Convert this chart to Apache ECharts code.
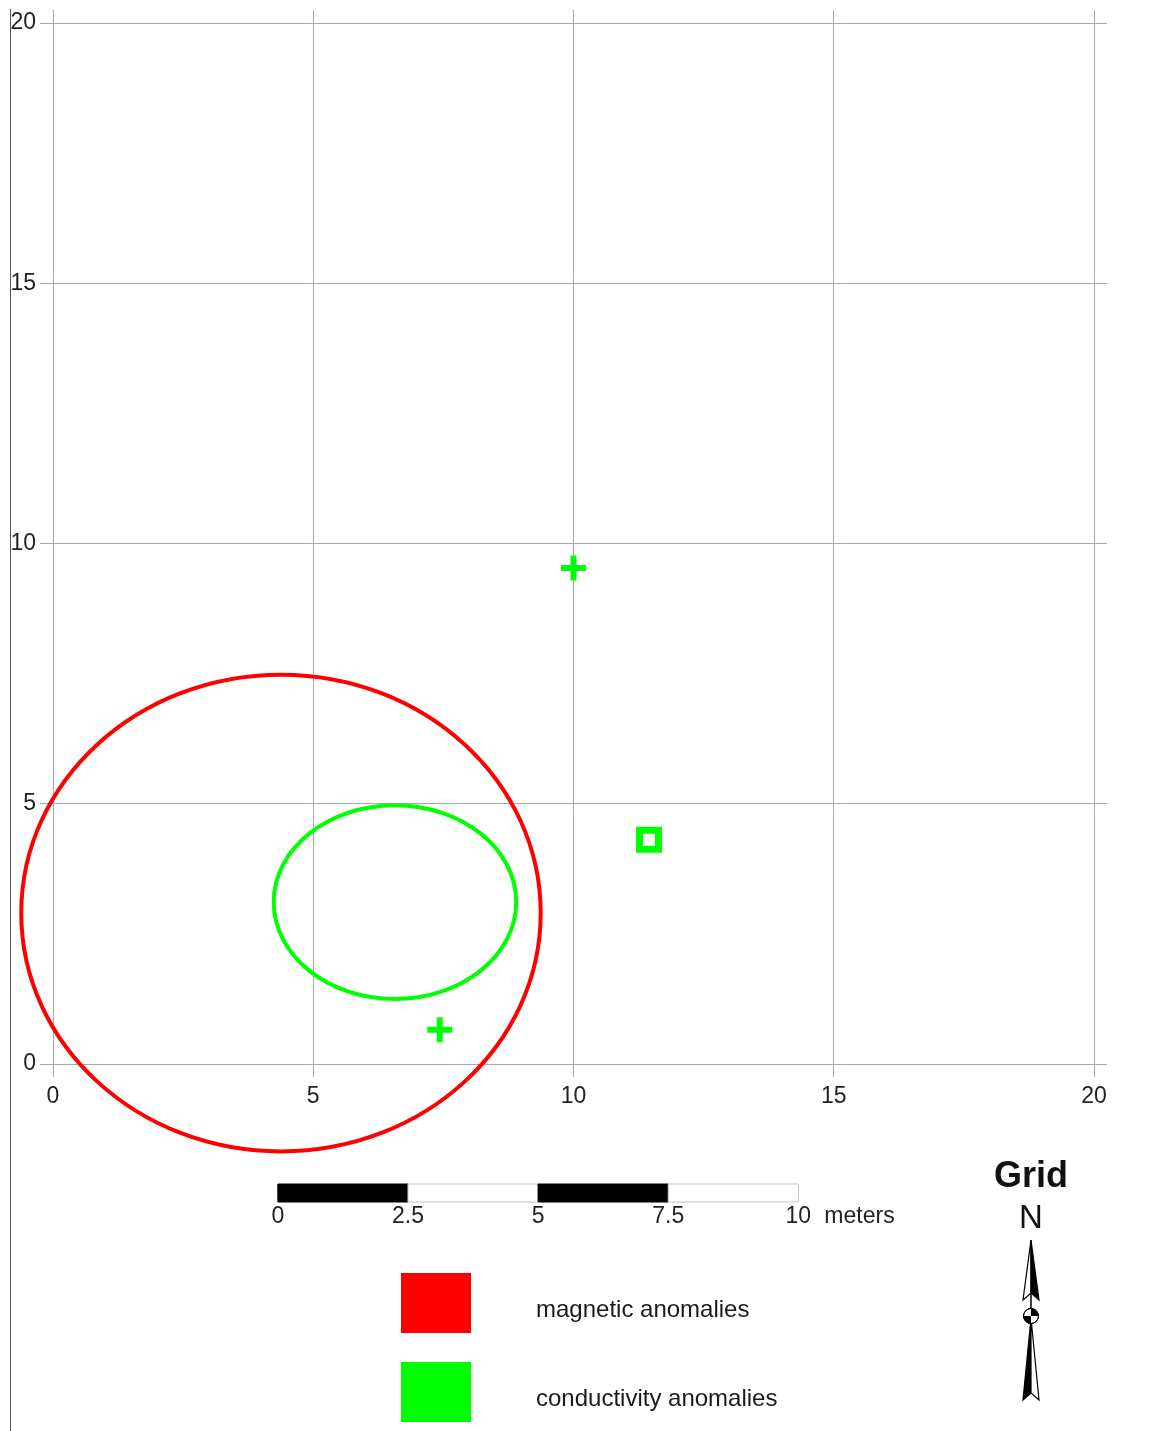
<!DOCTYPE html>
<html>
<head>
<meta charset="utf-8">
<script src="https://cdn.jsdelivr.net/npm/echarts@6/dist/echarts.min.js"></script>
<style>
html,body{margin:0;padding:0;background:#fff;}
#chart{width:1149px;height:1431px;}
</style>
</head>
<body>
<div id="chart"></div>
<script>
// ---------- data (meters) ----------
const axisMin = 0;
const axisMax = 20;
const axisStep = 5;
const gridTicks = [0, 5, 10, 15, 20];
// [centerX, centerY, radiusX, radiusY]
const magneticEllipses = [[4.38, 2.9, 4.99, 4.58]];
const conductivityEllipses = [[6.57, 3.11, 2.33, 1.86]];
const conductivityCrosses = [[10.0, 9.53], [7.43, 0.66]];
const conductivitySquares = [[11.45, 4.31]];
const scaleTicks = [0, 2.5, 5, 7.5, 10];
const scaleUnit = 'meters';
const legendNames = ['magnetic anomalies', 'conductivity anomalies'];
const northTitle = 'Grid';
const northLetter = 'N';

// ---------- layout / style constants ----------
const FONT = '"Liberation Sans", Arial, Helvetica, sans-serif';
const RED = '#ff0000';
const GREEN = '#00ff00';
const GRID_COLOR = '#a8a8a8';
const TEXT_COLOR = '#222222';
const GRID_EXT = 13;         // px the grid lines run past the frame
const SCALE_ORIGIN = 4.32;   // scale bar start, in map meters
const SCALE_DY = 120;        // px below y=0 line
const SCALE_H = 18;

const scaleSegments = scaleTicks.slice(0, -1).map((t, i) => [t, scaleTicks[i + 1]]);

function crisp(v) { return Math.round(v - 0.5) + 0.5; }

function ellipseItem(color) {
  return function (params, api) {
    const c = api.coord([api.value(0), api.value(1)]);
    const s = api.size([api.value(2), api.value(3)]);
    return {
      type: 'ellipse',
      shape: { cx: c[0], cy: c[1], rx: s[0], ry: s[1] },
      style: { fill: 'none', stroke: color, lineWidth: 4 }
    };
  };
}

const chart = echarts.init(document.getElementById('chart'), null, { renderer: 'canvas' });

// North arrow geometry (decoration)
const NX = 1031;
const arrow = [
  { type: 'polygon', shape: { points: [[NX, 1240], [NX - 8, 1300], [NX, 1293]] }, style: { fill: '#fff', stroke: '#000', lineWidth: 1.2 } },
  { type: 'polygon', shape: { points: [[NX, 1240], [NX + 8, 1300], [NX, 1293]] }, style: { fill: '#000', stroke: '#000', lineWidth: 1.2 } },
  { type: 'line', shape: { x1: NX, y1: 1293, x2: NX, y2: 1310 }, style: { stroke: '#000', lineWidth: 1.5 } },
  { type: 'polygon', shape: { points: [[NX, 1318], [NX - 8, 1400], [NX, 1393]] }, style: { fill: '#000', stroke: '#000', lineWidth: 1.2 } },
  { type: 'polygon', shape: { points: [[NX, 1318], [NX + 8, 1400], [NX, 1393]] }, style: { fill: '#fff', stroke: '#000', lineWidth: 1.2 } },
  { type: 'circle', shape: { cx: NX, cy: 1316, r: 7.5 }, style: { fill: '#fff', stroke: '#000', lineWidth: 1 }, z: 10 },
  { type: 'sector', shape: { cx: NX, cy: 1316, r0: 0, r: 7.5, startAngle: -Math.PI / 2, endAngle: 0 }, style: { fill: '#000' }, z: 11 },
  { type: 'sector', shape: { cx: NX, cy: 1316, r0: 0, r: 7.5, startAngle: Math.PI / 2, endAngle: Math.PI }, style: { fill: '#000' }, z: 11 },
  { type: 'circle', shape: { cx: NX, cy: 1316, r: 7.5 }, style: { fill: 'none', stroke: '#000', lineWidth: 1 }, z: 12 }
];

const option = {
  animation: false,
  backgroundColor: '#ffffff',
  textStyle: { fontFamily: FONT },
  grid: { left: 53, top: 23, width: 1041, height: 1041, containLabel: false },
  xAxis: {
    type: 'value', min: axisMin, max: axisMax, interval: axisStep, position: 'bottom',
    axisLine: { show: false },
    axisTick: { show: false },
    axisLabel: { show: true, margin: 21, fontSize: 23, color: TEXT_COLOR, fontFamily: FONT },
    splitLine: { show: false }
  },
  yAxis: {
    type: 'value', min: axisMin, max: axisMax, interval: axisStep, position: 'left',
    axisLine: { show: false },
    axisTick: { show: false },
    axisLabel: { show: true, margin: 17, fontSize: 23, color: TEXT_COLOR, fontFamily: FONT },
    splitLine: { show: false }
  },
  legend: {
    data: legendNames,
    orient: 'vertical',
    left: 401, top: 1273,
    padding: 0,
    itemWidth: 70, itemHeight: 60, itemGap: 29,
    icon: 'rect',
    selectedMode: false,
    itemStyle: { borderWidth: 0 },
    formatter: function (name) { return '{t|' + name + '}'; },
    textStyle: {
      fontSize: 24, color: '#1a1a1a', fontFamily: FONT, padding: [0, 0, 0, 60],
      rich: { t: { fontSize: 24, color: '#1a1a1a', fontFamily: FONT, padding: [14, 0, 0, 0] } }
    }
  },
  series: [
    {
      // vertical grid lines
      type: 'custom', clip: false, silent: true, z: 1,
      data: gridTicks.map(v => [v]),
      renderItem: function (params, api) {
        const v = api.value(0);
        const a = api.coord([v, axisMax]);
        const b = api.coord([v, axisMin]);
        const x = crisp(a[0]);
        return { type: 'line', shape: { x1: x, y1: a[1] - GRID_EXT, x2: x, y2: b[1] + GRID_EXT }, style: { stroke: GRID_COLOR, lineWidth: 1 } };
      }
    },
    {
      // horizontal grid lines
      type: 'custom', clip: false, silent: true, z: 1,
      data: gridTicks.map(v => [v]),
      renderItem: function (params, api) {
        const v = api.value(0);
        const a = api.coord([axisMin, v]);
        const b = api.coord([axisMax, v]);
        const y = crisp(a[1]);
        return { type: 'line', shape: { x1: a[0] - GRID_EXT, y1: y, x2: b[0] + GRID_EXT, y2: y }, style: { stroke: GRID_COLOR, lineWidth: 1 } };
      }
    },
    {
      name: legendNames[0], type: 'custom', clip: false,
      itemStyle: { color: RED },
      renderItem: ellipseItem(RED),
      data: magneticEllipses, z: 3
    },
    {
      name: legendNames[1], type: 'custom', clip: false,
      itemStyle: { color: GREEN },
      renderItem: ellipseItem(GREEN),
      data: conductivityEllipses, z: 4
    },
    {
      name: legendNames[1], type: 'scatter',
      symbol: 'path://M9.5,0H15.5V9.5H25V15.5H15.5V25H9.5V15.5H0V9.5H9.5Z',
      symbolSize: 25,
      itemStyle: { color: GREEN, opacity: 1 },
      data: conductivityCrosses, z: 5
    },
    {
      name: legendNames[1], type: 'scatter',
      symbol: 'rect', symbolSize: 19,
      itemStyle: { color: '#ffffff', borderColor: GREEN, borderWidth: 7, opacity: 1 },
      data: conductivitySquares, z: 5
    },
    {
      type: 'custom', clip: false, silent: true,
      data: scaleSegments,
      renderItem: function (params, api) {
        const p0 = api.coord([SCALE_ORIGIN + api.value(0), 0]);
        const p1 = api.coord([SCALE_ORIGIN + api.value(1), 0]);
        const black = params.dataIndex % 2 === 0;
        return {
          type: 'rect',
          shape: { x: p0[0], y: p0[1] + SCALE_DY, width: p1[0] - p0[0], height: SCALE_H },
          style: { fill: black ? '#000' : '#fff', stroke: black ? '#000' : '#c4c4c4', lineWidth: 1 }
        };
      }
    },
    {
      type: 'custom', clip: false, silent: true,
      data: scaleTicks.map(t => [t]),
      renderItem: function (params, api) {
        const v = api.value(0);
        const p = api.coord([SCALE_ORIGIN + v, 0]);
        const y = p[1] + SCALE_DY + SCALE_H + 15;
        const children = [{
          type: 'text', x: p[0], y: y,
          style: { text: String(v), fontSize: 23, fontFamily: FONT, fill: TEXT_COLOR, align: 'center', verticalAlign: 'middle' }
        }];
        if (params.dataIndex === scaleTicks.length - 1) {
          children.push({
            type: 'text', x: p[0] + 26, y: y,
            style: { text: scaleUnit, fontSize: 23, fontFamily: FONT, fill: TEXT_COLOR, align: 'left', verticalAlign: 'middle' }
          });
        }
        return { type: 'group', children: children };
      }
    }
  ],
  graphic: [
    { type: 'line', shape: { x1: 10.5, y1: 9, x2: 10.5, y2: 1431 }, style: { stroke: '#555', lineWidth: 1 } },
    { type: 'text', x: NX, y: 1177, style: { text: northTitle, fontSize: 36, fontWeight: 'bold', fontFamily: FONT, fill: '#111', align: 'center', verticalAlign: 'middle' } },
    { type: 'text', x: NX, y: 1219, style: { text: northLetter, fontSize: 33, fontFamily: FONT, fill: '#111', align: 'center', verticalAlign: 'middle' } }
  ].concat(arrow)
};

chart.setOption(option);
</script>
</body>
</html>
